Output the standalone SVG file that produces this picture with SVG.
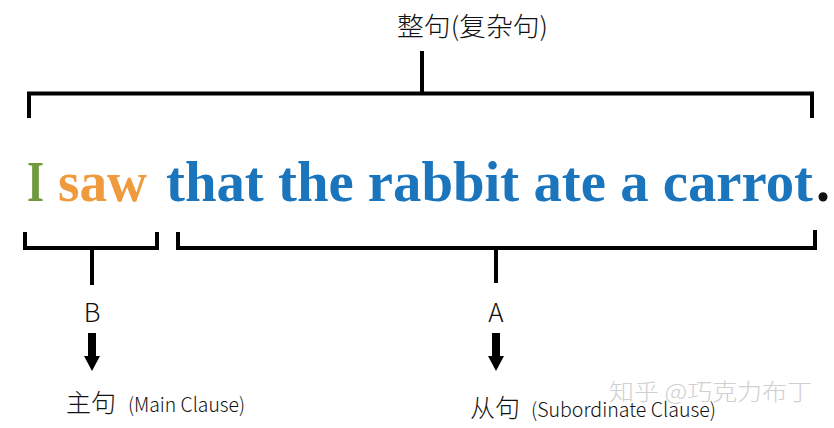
<svg xmlns="http://www.w3.org/2000/svg" width="834" height="428" viewBox="0 0 834 428">
<style>
.br{fill:none;stroke:#000;stroke-width:4;stroke-linecap:butt;stroke-linejoin:miter}
.lbl{font-family:"Noto Sans CJK SC","Noto Sans",sans-serif;font-weight:300;fill:#111}
.sent{font-family:"Liberation Serif",serif;font-weight:bold;font-size:56px}
.arrow{fill:#000}
</style>
<rect width="834" height="428" fill="#fff"/>
<g id="sentence">
<text class="sent" y="201"><tspan x="27" fill="#6e9a3c" textLength="17" lengthAdjust="spacingAndGlyphs">I</tspan><tspan x="58" fill="#f09a3e" textLength="89" lengthAdjust="spacingAndGlyphs">saw</tspan><tspan x="166" fill="#1b75bc" textLength="647" lengthAdjust="spacingAndGlyphs">that the rabbit ate a carrot</tspan><tspan x="816" fill="#111">.</tspan></text>
</g>
<g id="whole">
<text class="lbl" x="397" y="36" font-size="26" textLength="151" lengthAdjust="spacingAndGlyphs">整句(复杂句)</text>
</g>
<g id="main">
<text class="lbl" x="92" y="322" font-size="26" text-anchor="middle">B</text>
<text class="lbl" x="66" y="412"><tspan font-size="25">主句</tspan><tspan font-size="20" x="128" textLength="117" lengthAdjust="spacingAndGlyphs">(Main Clause)</tspan></text>
</g>
<g id="sub">
<text class="lbl" x="496" y="322" font-size="26" text-anchor="middle">A</text>
<text class="lbl" x="470" y="417"><tspan font-size="25">从句</tspan><tspan font-size="20" x="531" textLength="185" lengthAdjust="spacingAndGlyphs">(Subordinate Clause)</tspan></text>
</g>
<g id="connectors">
<path class="br" d="M29,118 V93.5 H812 V118"/>
<path class="br" d="M422,51 V93"/>
<path class="br" d="M25,232 V248 H157 V232"/>
<path class="br" d="M92,248 V285"/>
<path class="br" d="M178,232 V248 H815 V230"/>
<path class="br" d="M496,248 V283"/>
<path class="arrow" d="M88,333 H96 V356 H100 L92,371 L84,356 H88 Z"/>
<path class="arrow" d="M492,333 H500 V356 H504 L496,371 L488,356 H492 Z"/>
</g>
<text class="lbl" x="609" y="400" font-size="23" style="fill:#d0d0d0" textLength="203" lengthAdjust="spacingAndGlyphs">知乎 @巧克力布丁</text>
</svg>
